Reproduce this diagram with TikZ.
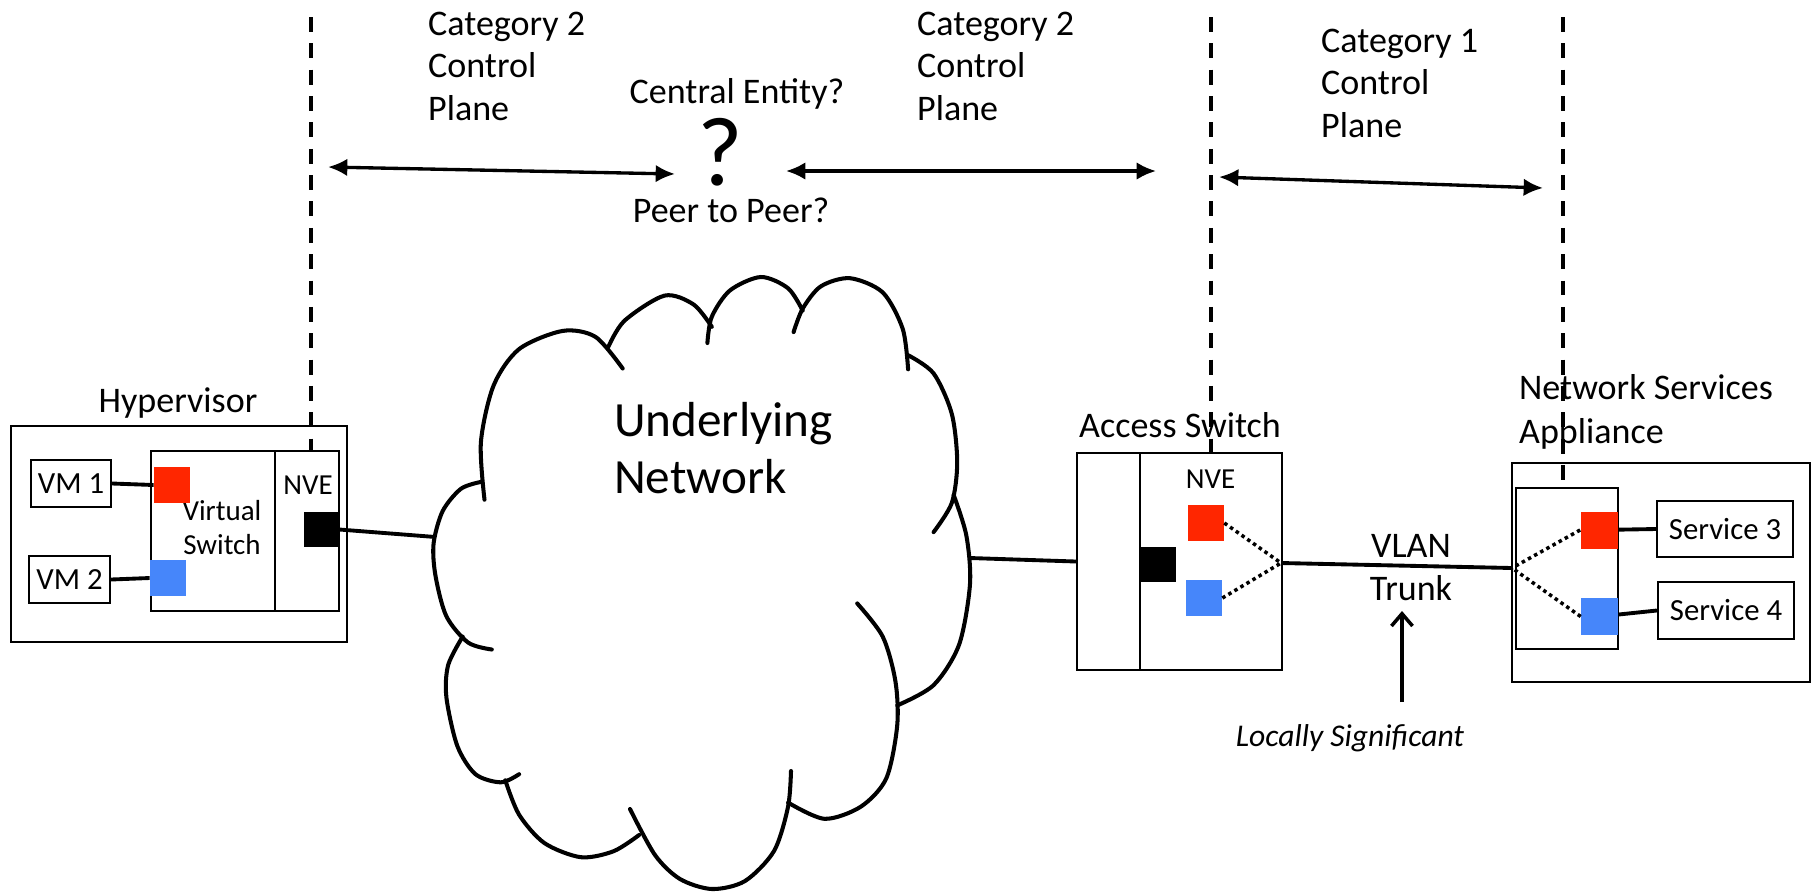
\documentclass[tikz,border=0pt]{standalone}
\usepackage{fontspec}
\setmainfont{Carlito}
\usetikzlibrary{arrows.meta}

\definecolor{portred}{RGB}{255,38,0}
\definecolor{portblue}{RGB}{70,134,250}

\tikzset{
  box/.style={draw, line width=1.3pt, inner sep=0pt},
  port/.style={inner sep=0pt, minimum size=0.72cm},
  link/.style={line width=2.2pt},
  vlanlink/.style={line width=2pt, dash pattern=on 2pt off 2pt},
  bound/.style={line width=1.8pt, dash pattern=on 8.5pt off 6.5pt},
  span/.style={line width=1.9pt, {Latex[length=11pt,width=10pt]}-{Latex[length=11pt,width=10pt]}},
  cloudline/.style={line width=2.3pt, line cap=round},
  big/.style={font=\fontsize{20.5}{24}\selectfont},
  small/.style={font=\fontsize{16.5}{19.3}\selectfont},
  vmtext/.style={font=\fontsize{17.5}{20}\selectfont},
}

\begin{document}
\begin{tikzpicture}[x=0.02cm,y=-0.02cm]
\useasboundingbox (0,0) rectangle (1816,894);

%control planes%
\node[big, anchor=base west, align=left] (cat2a) at (422,120) {Category 2\\Control\\Plane};
\node[big, anchor=base west, align=left] (cat2b) at (911,120) {Category 2\\Control\\Plane};
\node[big, anchor=base west, align=left] (cat1) at (1315,137) {Category 1\\Control\\Plane};
\node[big, anchor=base] (central) at (737,103) {Central Entity?};
\node[font=\fontsize{56}{60}\selectfont, anchor=base, inner sep=0pt] (qmark) at (720,185) {?};
\node[big, anchor=base] (peer) at (731,222) {Peer to Peer?};

\coordinate (ctl2a-w) at (328,167);
\coordinate (ctl2a-e) at (675,174);
\coordinate (ctl2b-w) at (786,171);
\coordinate (ctl2b-e) at (1156,171);
\coordinate (ctl1-w) at (1219,177);
\coordinate (ctl1-e) at (1543,188);
\draw[span] (ctl2a-w) -- (ctl2a-e);
\draw[span] (ctl2b-w) -- (ctl2b-e);
\draw[span] (ctl1-w) -- (ctl1-e);

%hypervisor%
\node[box, minimum width=6.72cm, minimum height=4.32cm] (hyp) at (179,534) {};
\node[big, anchor=base] (hyplabel) at (178,412) {Hypervisor};
\node[box, minimum width=2.48cm, minimum height=3.2cm] (vswitch) at (213,531) {};
\node[small, anchor=base, align=center] (vswlabel) at (222,554) {Virtual\\Switch};
\node[box, minimum width=1.28cm, minimum height=3.2cm] (hnve) at (307,531) {};
\node[small, anchor=base] (hnvelabel) at (308,494) {NVE};
\node[box, vmtext, minimum width=1.6cm, minimum height=0.94cm] (vm1) at (71,483.5) {VM 1};
\node[box, vmtext, minimum width=1.62cm, minimum height=0.94cm] (vm2) at (69.5,579.5) {VM 2};
\node[port, fill=portred] (hred) at (172,485) {};
\node[port, fill=portblue] (hblue) at (168,578) {};
\node[port, fill=black, minimum size=0.7cm] (hblack) at (321.5,529.5) {};
\draw[link] (vm1.east) -- (hred.west);
\draw[link] (vm2.east) -- (hblue.west);

%underlying network%
\draw[cloudline] plot[smooth] coordinates {(484.5,499.7) (480.9,442.2) (493.6,385.5) (519.1,349.1) (562.7,330.9) (595.5,336.9) (622.7,368.5)};
\draw[cloudline] plot[smooth] coordinates {(608.2,347.1) (624.5,320.7) (664.5,295.6) (693.6,304.5) (711.8,326.8)};
\draw[cloudline] plot[smooth] coordinates {(707.4,343.0) (711.8,316.7) (730.0,290.4) (760.9,277.0) (788.1,288.3) (802.7,310.6)};
\draw[cloudline] plot[smooth] coordinates {(793.6,332.1) (802.7,308.6) (820.9,286.3) (850.0,278.2) (882.7,292.4) (902.7,328.8) (908.1,369.3)};
\draw[cloudline] plot[smooth] coordinates {(908.1,355.2) (933.6,373.4) (951.8,413.9) (957.2,462.5) (951.8,502.9) (933.6,532.1)};
\draw[cloudline] plot[smooth] coordinates {(953.6,494.8) (966.3,535.3) (970.0,583.9) (959.1,644.6) (933.6,685.1) (897.2,705.4)};
\draw[cloudline] plot[smooth] coordinates {(857.2,603.4) (882.7,636.6) (895.4,681.1) (897.2,725.6) (886.3,778.3) (860.9,806.6) (824.5,818.8) (788.1,802.6)};
\draw[cloudline] plot[smooth] coordinates {(791,771) (788,807) (774,851) (745,881) (712,889) (680,879) (655,855) (630,809)};
\draw[cloudline] plot[smooth] coordinates {(639.1,835.0) (613.6,851.2) (580.9,857.2) (544.5,843.1) (519.1,814.7) (505.3,780.3)};
\draw[cloudline] plot[smooth] coordinates {(519.1,774.2) (500.9,782.3) (475.5,774.2) (457.3,745.9) (446.4,697.3) (448.2,664.9) (462.7,636.6)};
\draw[cloudline] plot[smooth] coordinates {(491.8,649.5) (468.2,642.6) (446.4,616.3) (435.5,575.8) (433.6,543.4) (442.7,511.0) (460.9,488.8) (480.9,481.9)};
\node[font=\fontsize{28}{32}\selectfont, anchor=base west, align=left] (underlay) at (608,493) {Underlying\\Network};
\coordinate (cloud-w) at (435.5,537);
\coordinate (cloud-e) at (970,558);
\draw[link] (hblack.east) -- (cloud-w);

%access switch%
\node[box, minimum width=4.1cm, minimum height=4.34cm] (asw) at (1179.5,561.5) {};
\node[box, minimum width=2.84cm, minimum height=4.34cm] (anve) at (1211,561.5) {};
\node[big, anchor=base] (aswlabel) at (1180,437) {Access Switch};
\node[small, anchor=base] (anvelabel) at (1210.5,488) {NVE};
\node[port, fill=portred] (ared) at (1206,523) {};
\node[port, fill=portblue] (ablue) at (1204,598) {};
\node[port, fill=black, minimum size=0.7cm] (ablack) at (1158,564) {};
\coordinate (asw-trunk) at (1281,563);
\draw[link] (cloud-e) -- (asw.west);
\draw[vlanlink] (ared.east) -- (asw-trunk);
\draw[vlanlink] (ablue.east) -- (asw-trunk);

%network services appliance%
\node[box, minimum width=5.96cm, minimum height=4.38cm] (nsa) at (1661,572.5) {};
\node[font=\fontsize{20.5}{25}\selectfont, anchor=base west, align=left] (nsalabel) at (1513,443) {Network Services\\Appliance};
\node[box, minimum width=2.04cm, minimum height=3.22cm] (nsanve) at (1567,568.5) {};
\node[box, vmtext, minimum width=2.72cm, minimum height=1.12cm] (svc3) at (1725,529) {Service 3};
\node[box, vmtext, minimum width=2.72cm, minimum height=1.14cm] (svc4) at (1726,610.5) {Service 4};
\draw[link] (1599,530) -- (svc3.west);
\draw[link] (1599.5,616.5) -- (svc4.west);
\node[port, fill=portred, minimum size=0.74cm] (nred) at (1599,530) {};
\node[port, fill=portblue, minimum size=0.74cm] (nblue) at (1599.5,616.5) {};
\coordinate (nsa-trunk) at (1512,568);
\draw[vlanlink] (nred.west) -- (nsa-trunk);
\draw[vlanlink] (nblue.west) -- (nsa-trunk);

%vlan trunk%
\draw[link] (asw-trunk) -- (nsa-trunk);
\node[big, anchor=base, align=center] (trunklabel) at (1411,600) {VLAN\\Trunk};
\node[font=\fontsize{18}{22}\selectfont\itshape, anchor=base] (sig) at (1350,746) {Locally Significant};
\coordinate (sig-tail) at (1402,702);
\coordinate (sig-tip) at (1402,611);
\draw[line width=2pt, -{Straight Barb[length=7pt,width=12pt]}] (sig-tail) -- (sig-tip);

%boundaries%
\coordinate (bound1) at (311,17);
\coordinate (bound2) at (1211,17);
\coordinate (bound3) at (1563,17);
\draw[bound] (bound1) -- (bound1 |- hnve.north);
\draw[bound] (bound2) -- (bound2 |- anve.north);
\draw[bound] (bound3) -- (bound3 |- nsanve.north);
\end{tikzpicture}
\end{document}
